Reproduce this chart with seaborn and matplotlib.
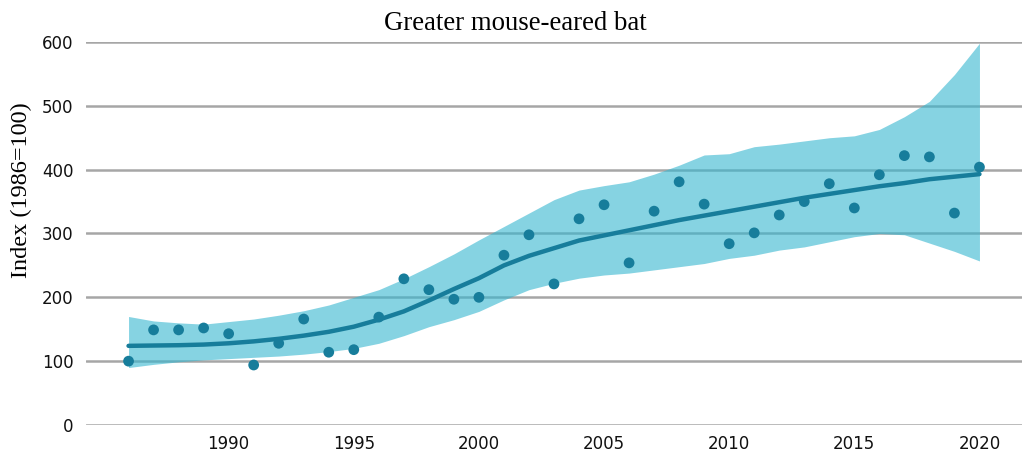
import numpy as np
import pandas as pd
import matplotlib
matplotlib.use("Agg")
import matplotlib.pyplot as plt
import seaborn as sns

# Annual population index for the greater mouse-eared bat (1986 = 100)
years = list(range(1986, 2021))
index_values = [100, 149, 149, 152, 143, 94, 128, 166, 114, 118,
                169, 229, 212, 197, 200, 266, 298, 221, 323, 345,
                254, 335, 381, 346, 284, 301, 329, 350, 378, 340,
                392, 422, 420, 332, 404]
# Smoothed trend and its confidence band
trend = [124, 124.5, 125, 126, 128, 131, 135, 140, 146, 154,
         165, 178, 195, 213, 230, 250, 265, 277, 289, 297,
         305, 313, 321, 328, 335, 342, 349, 356, 362, 368,
         374, 379, 385, 389, 393]
upper = [170, 163, 160, 158, 162, 166, 172, 179, 188, 200,
         212, 229, 248, 268, 290, 311, 332, 353, 368, 375,
         381, 393, 407, 423, 425, 436, 440, 445, 450, 453,
         463, 483, 507, 549, 598]
lower = [90, 95, 99, 102, 104, 106, 108, 111, 115, 120,
         128, 140, 154, 165, 178, 196, 212, 222, 230, 235,
         238, 243, 248, 253, 261, 266, 274, 279, 287, 295,
         300, 298, 285, 272, 257]

df = pd.DataFrame({"year": years, "index": index_values,
                   "trend": trend, "upper": upper, "lower": lower})

sns.set_style("white")
plt.rcParams["font.family"] = ["DejaVu Sans"]

dark = "#177d9b"
band = "#35b6d0"

fig = plt.figure(figsize=(10.24, 4.55), dpi=100)
ax = fig.add_axes([86 / 1024, 1 - 425 / 455, (1022 - 86) / 1024, (425 - 42) / 455])

ax.fill_between(df["year"], df["lower"], df["upper"], color=band, alpha=0.6,
                linewidth=0, zorder=2)
sns.lineplot(data=df, x="year", y="trend", ax=ax, color=dark, linewidth=3.2,
             zorder=3)
sns.scatterplot(data=df, x="year", y="index", ax=ax, color=dark, s=60,
                edgecolor="none", zorder=4)

ax.set_xlim(1984.3, 2021.7)
ax.set_ylim(0, 600)
ax.set_xticks([1990, 1995, 2000, 2005, 2010, 2015, 2020])
ax.set_yticks([0, 100, 200, 300, 400, 500, 600])
ax.yaxis.grid(True, color="#a6a6a6", linewidth=1.8, zorder=1)
ax.xaxis.grid(False)
ax.set_axisbelow(True)
for s in ax.spines.values():
    s.set_visible(False)
ax.tick_params(axis="both", length=0, labelsize=12, colors="#111111")
ax.tick_params(axis="y", pad=9)
ax.tick_params(axis="x", pad=7)

ax.set_xlabel("")
ax.set_ylabel("")
fig.text(21 / 1024, 1 - 190 / 455, "Index (1986=100)", family="Liberation Serif",
         fontsize=17.5, rotation=90, ha="center", va="center", color="black")
fig.text(515 / 1024, 1 - 23 / 455, "Greater mouse-eared bat",
         family="Liberation Serif", fontsize=19.3, ha="center", va="center",
         color="black")

fig.savefig("out.png", dpi=100)
